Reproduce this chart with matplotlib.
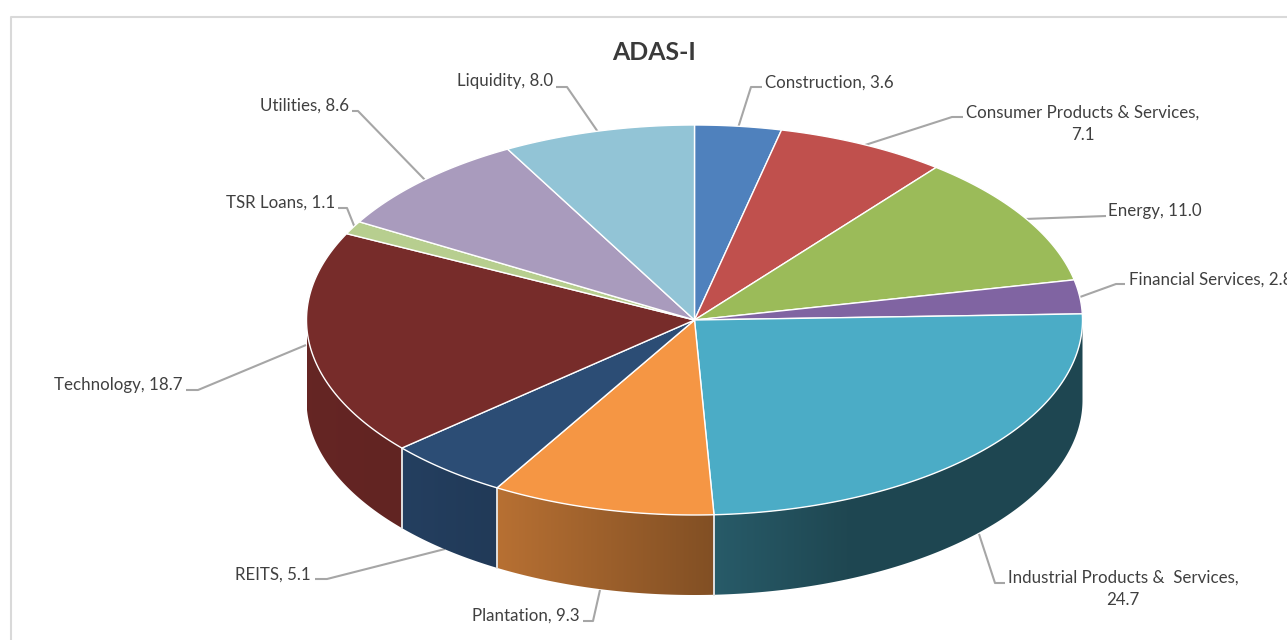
import numpy as np
import matplotlib
matplotlib.use("Agg")
import matplotlib.pyplot as plt
from matplotlib.patches import Polygon

names = ["Construction", "Consumer Products & Services", "Energy", "Financial Services",
         "Industrial Products &  Services", "Plantation", "REITS", "Technology",
         "TSR Loans", "Utilities", "Liquidity"]
values = [3.6, 7.1, 11.0, 2.8, 24.7, 9.3, 5.1, 18.7, 1.1, 8.6, 8.0]
colors = ["#4F81BD", "#C0504D", "#9BBB59", "#8064A2", "#4BACC6", "#F59644",
          "#2C4D75", "#772C2A", "#B7CE8F", "#A99BBD", "#92C4D6"]

# pie geometry in image pixels
cx, cy = 694.5, 320
rx, ry = 388, 195
depth = 80

plt.rcParams['font.family'] = ['Lato', 'DejaVu Sans']
fig = plt.figure(figsize=(12.87, 6.4), dpi=100)
ax = fig.add_axes([0, 0, 1, 1])
ax.axis("off")

# chart frame
ax.plot([10.5, 10.5, 1290], [645, 17, 17], color="#D9D9D9", lw=1.5, zorder=1)


def arc(t0, t1):
    t = np.radians(np.linspace(t0, t1, max(int(abs(t1 - t0) * 2), 2)))
    return cx + rx * np.sin(t), cy - ry * np.cos(t)


def shade(x):
    return np.interp(x, [307, 400, 495, 712, 850, 1083], [0.85, 0.82, 0.75, 0.53, 0.41, 0.41])


# leader lines, behind the pie
leaders = [
    [(738, 128), (751, 87), (762, 87)],
    [(862, 146), (952, 117), (963, 117)],
    [(1025, 219), (1106, 216)],
    [(1080, 297), (1116, 284), (1125, 284)],
    [(979, 534), (995, 583), (1005, 583)],
    [(600, 590), (593, 621), (583, 621)],
    [(445, 549), (327, 579), (315, 579)],
    [(306, 345), (198, 390), (186, 390)],
    [(355, 228), (347, 208), (338, 208)],
    [(425, 180), (358, 111), (352, 111)],
    [(598, 132), (567, 87), (556, 87)],
]
for pts in leaders:
    xs, ys = zip(*pts)
    ax.plot(xs, ys, color="#A6A6A6", lw=1.5, zorder=2, solid_capstyle="butt")

angles = np.concatenate([[0], np.cumsum(values)]) / sum(values) * 360

# side wall, only the front half shows
for i, col in enumerate(colors):
    t0, t1 = max(angles[i], 90), min(angles[i + 1], 270)
    if t1 <= t0:
        continue
    xs, ys = arc(t0, t1)
    rgb = np.array(matplotlib.colors.to_rgb(col))
    x0, x1 = xs.min(), xs.max()
    xx = np.linspace(x0, x1, 200)
    grad = shade(xx)[None, :, None] * rgb[None, None, :]
    im = ax.imshow(grad, extent=(x0, x1, ys.max() + depth, ys.min()), aspect="auto",
                   interpolation="bilinear", zorder=3)
    wall = Polygon(np.c_[np.r_[xs, xs[::-1]], np.r_[ys, ys[::-1] + depth]], closed=True,
                   transform=ax.transData, facecolor="none", edgecolor="none")
    ax.add_patch(wall)
    im.set_clip_path(wall)
    for a in (t0, t1):
        if 90 < a < 270:
            xa, ya = arc(a, a + 0.01)
            ax.plot([xa[0], xa[0]], [ya[0], ya[0] + depth], color="#E4E4E4", lw=1.1, zorder=4)

# top face
for i, col in enumerate(colors):
    xs, ys = arc(angles[i], angles[i + 1])
    ax.fill(np.r_[cx, xs], np.r_[cy, ys], facecolor=col, edgecolor="white", lw=1.0, zorder=5)

# labels
label_x = [765, 1083, 1108, 1129, 1123, 580, 311, 182, 335, 349, 553]
label_y = [83, 124, 211, 280, 589, 616, 575, 385, 203, 106, 81]
label_ha = ["left", "center", "left", "left", "center", "right", "right", "right", "right", "right", "right"]
label_sep = [" ", "\n", " ", " ", "\n", " ", " ", " ", " ", " ", " "]

for i, name in enumerate(names):
    ax.text(label_x[i], label_y[i], f"{name},{label_sep[i]}{values[i]:.1f}", ha=label_ha[i],
            va="center", fontsize=12.2, color="#404040", linespacing=1.45,
            multialignment="center", zorder=6, clip_on=True)

ax.text(654, 52, "ADAS-I", ha="center", va="center", fontsize=17.9, fontweight="bold", color="#3A3A3A")

ax.set_xlim(0, 1287)
ax.set_ylim(640, 0)
ax.set_aspect("auto")

fig.savefig("out.png", dpi=100, facecolor="white")
